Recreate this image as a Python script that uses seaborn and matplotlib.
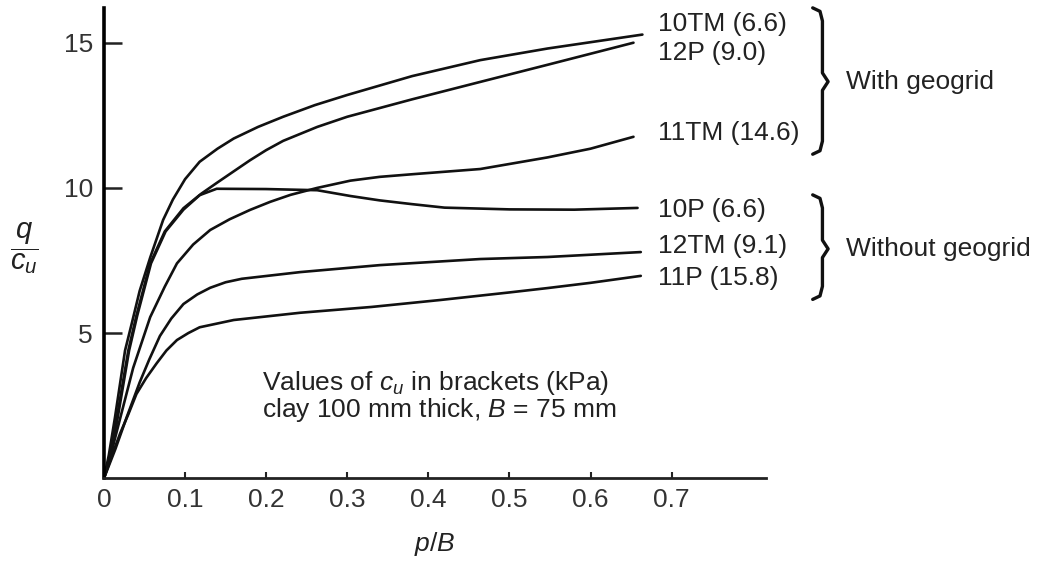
import pandas as pd
import matplotlib.pyplot as plt
import seaborn as sns

# curve data (p/B, q/cu)
x_10tm = [0, 0.006, 0.0136, 0.026, 0.034, 0.044, 0.057, 0.073, 0.085, 0.10, 0.118, 0.14, 0.16, 0.19, 0.221, 0.26, 0.30, 0.38, 0.464, 0.547, 0.664]
y_10tm = [0, 0.8, 2.1, 4.4, 5.3, 6.45, 7.6, 8.9, 9.6, 10.3, 10.9, 11.35, 11.7, 12.1, 12.45, 12.85, 13.2, 13.85, 14.4, 14.8, 15.28]

x_12p = [0, 0.008, 0.016, 0.03, 0.04, 0.057, 0.075, 0.098, 0.12, 0.139, 0.16, 0.18, 0.20, 0.221, 0.263, 0.30, 0.38, 0.464, 0.547, 0.653]
y_12p = [0, 0.8, 2.1, 4.4, 5.6, 7.4, 8.5, 9.3, 9.8, 10.17, 10.57, 10.95, 11.3, 11.62, 12.1, 12.45, 13.05, 13.65, 14.24, 15.0]

x_11tm = [0, 0.012, 0.024, 0.036, 0.057, 0.075, 0.09, 0.11, 0.131, 0.155, 0.18, 0.205, 0.23, 0.263, 0.304, 0.34, 0.38, 0.464, 0.547, 0.60, 0.653]
y_11tm = [0, 1.2, 2.5, 3.8, 5.55, 6.6, 7.4, 8.05, 8.55, 8.92, 9.24, 9.52, 9.76, 10.0, 10.25, 10.38, 10.47, 10.65, 11.05, 11.35, 11.76]

x_10p = [0, 0.009, 0.017, 0.031, 0.041, 0.058, 0.076, 0.098, 0.118, 0.139, 0.20, 0.263, 0.304, 0.34, 0.38, 0.42, 0.50, 0.58, 0.658]
y_10p = [0, 0.8, 2.1, 4.4, 5.6, 7.4, 8.5, 9.25, 9.75, 9.97, 9.96, 9.92, 9.72, 9.57, 9.44, 9.32, 9.26, 9.25, 9.31]

x_12tm = [0, 0.014, 0.028, 0.044, 0.056, 0.069, 0.083, 0.098, 0.115, 0.131, 0.15, 0.17, 0.217, 0.242, 0.34, 0.464, 0.547, 0.662]
y_12tm = [0, 1.0, 2.1, 3.3, 4.1, 4.9, 5.5, 6.0, 6.33, 6.56, 6.75, 6.87, 7.02, 7.1, 7.34, 7.55, 7.62, 7.79]

x_11p = [0, 0.01, 0.02, 0.03, 0.04, 0.052, 0.065, 0.077, 0.09, 0.104, 0.118, 0.16, 0.242, 0.33, 0.415, 0.50, 0.547, 0.60, 0.662]
y_11p = [0, 0.8, 1.55, 2.2, 2.9, 3.45, 3.96, 4.4, 4.76, 5.0, 5.2, 5.45, 5.7, 5.9, 6.14, 6.4, 6.55, 6.73, 6.97]

curve_names = ["10TM (6.6)", "12P (9.0)", "11TM (14.6)", "10P (6.6)", "12TM (9.1)", "11P (15.8)"]
label_y = [15.66, 14.66, 11.9, 9.24, 8.0, 6.9]

xticks = [0, 0.1, 0.2, 0.3, 0.4, 0.5, 0.6, 0.7]
xtick_labels = ["0", "0.1", "0.2", "0.3", "0.4", "0.5", "0.6", "0.7"]
yticks = [5, 10, 15]

# brace groups: (top, middle, bottom, text)
groups = [(16.2, 13.66, 11.16, "With geogrid"), (9.76, 7.9, 6.16, "Without geogrid")]

xs = [x_10tm, x_12p, x_11tm, x_10p, x_12tm, x_11p]
ys = [y_10tm, y_12p, y_11tm, y_10p, y_12tm, y_11p]
rows = []
for name, cx, cy in zip(curve_names, xs, ys):
    for a, b in zip(cx, cy):
        rows.append({"curve": name, "pB": a, "q": b})
df = pd.DataFrame(rows)

sns.set_theme(style="white")
plt.rcParams["font.family"] = ["Liberation Sans", "DejaVu Sans"]
plt.rcParams["mathtext.fontset"] = "custom"
plt.rcParams["mathtext.rm"] = "Liberation Sans"
plt.rcParams["mathtext.it"] = "Liberation Sans:italic"

fig = plt.figure(figsize=(10.47, 5.62), dpi=100)
ax = fig.add_axes([0.0993, 0.149, 0.632, 0.837])

sns.lineplot(data=df, x="pB", y="q", hue="curve", units="curve", estimator=None,
             sort=False, palette=["#111111"] * 6, linewidth=1.9, legend=False, ax=ax)

ax.set_xlim(0, 0.816)
ax.set_ylim(0, 16.2)
ax.set_xticks(xticks, xtick_labels)
ax.set_yticks(yticks)
for s in ["top", "right"]:
    ax.spines[s].set_visible(False)
ax.spines["left"].set_linewidth(2.6)
ax.spines["left"].set_color("#000000")
ax.spines["bottom"].set_linewidth(2.0)
ax.spines["bottom"].set_color("#222222")
ax.tick_params(axis="y", left=True, direction="in", length=13, width=1.8, pad=8,
               labelsize=19, labelcolor="#333333", color="#222222")
ax.tick_params(axis="x", bottom=True, direction="in", length=4, width=1.5, pad=7,
               labelsize=19, labelcolor="#333333", color="#222222")

ax.set_xlabel("$p/B$", fontsize=19, color="#222222", va="center")
ax.xaxis.set_label_coords(0.5, -0.139)
ax.set_ylabel(r"$\dfrac{q}{c_u}$", fontsize=21, rotation=0, color="#222222",
              ha="center", va="center")
ax.yaxis.set_label_coords(-0.12, 0.49)

# curve labels
for name, ly in zip(curve_names, label_y):
    ax.text(0.683, ly, name, fontsize=19, color="#222222", va="center", ha="left")

# braces
bx = 0.886
for top, mid, bot, txt in groups:
    px = [bx - 0.012, bx - 0.003, bx, bx, bx + 0.007, bx, bx, bx - 0.003, bx - 0.012]
    py = [top, top - 0.12, top - 0.45, mid + 0.3, mid, mid - 0.3, bot + 0.45, bot + 0.12, bot]
    ax.plot(px, py, color="#111111", linewidth=2.4, clip_on=False, solid_capstyle="round")
    ax.text(0.915, mid, txt, fontsize=19, color="#222222", va="center", ha="left")

ax.text(0.195, 3.28, "Values of $c_u$ in brackets (kPa)", fontsize=19, color="#222222", va="center")
ax.text(0.195, 2.34, "clay 100 mm thick, $B$ = 75 mm", fontsize=19, color="#222222", va="center")

fig.savefig("out.png", dpi=100)
